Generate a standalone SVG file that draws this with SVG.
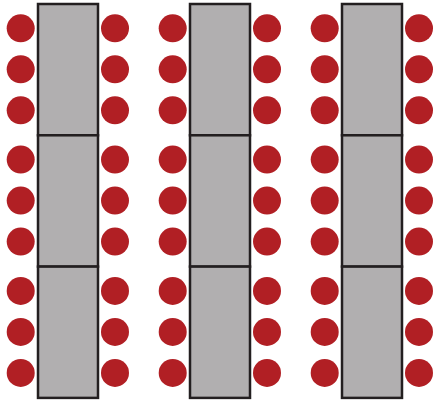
<svg xmlns="http://www.w3.org/2000/svg" width="438" height="401" viewBox="0 0 438 401">
<defs>
<style>
.t{fill:#b1afb0;stroke:#231f20;stroke-width:2.5}
.c{fill:#b11f24}
</style>
<g id="unit">
<rect class="t" x="38" y="4" width="60" height="131.3"/>
<circle class="c" cx="20.7" cy="28.3" r="14"/>
<circle class="c" cx="20.7" cy="69.3" r="14"/>
<circle class="c" cx="20.7" cy="110.3" r="14"/>
<circle class="c" cx="115" cy="28.3" r="14"/>
<circle class="c" cx="115" cy="69.3" r="14"/>
<circle class="c" cx="115" cy="110.3" r="14"/>
</g>
<g id="col">
<use href="#unit"/>
<use href="#unit" y="131.3"/>
<use href="#unit" y="262.6"/>
</g>
</defs>
<g id="table1"><use href="#col"/></g>
<g id="table2"><use href="#col" x="152"/></g>
<g id="table3"><use href="#col" x="304"/></g>
</svg>
